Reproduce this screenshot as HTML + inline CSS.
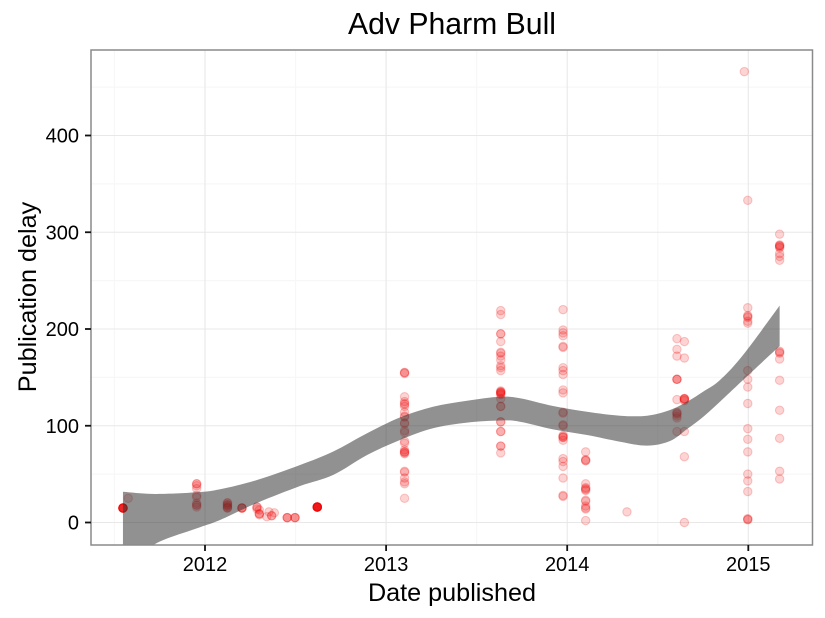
<!DOCTYPE html>
<html lang="en">
<head>
<meta charset="utf-8">
<title>Adv Pharm Bull</title>
<style>
html,body{margin:0;padding:0;background:#fff;width:825px;height:618px;overflow:hidden}
svg{display:block}
text{font-family:"Liberation Sans",Arial,sans-serif;fill:#000}
</style>
</head>
<body>
<svg id="chart" xmlns="http://www.w3.org/2000/svg" width="825" height="618" viewBox="0 0 825 618">
  <defs>
    <clipPath id="panel-clip"><rect x="91" y="50" width="722" height="495"></rect></clipPath>
  </defs>
  <rect x="91" y="50" width="722" height="495" fill="#fff"></rect>
  <g id="grid"></g>
  <g id="points" clip-path="url(#panel-clip)"></g>
  <path id="ribbon" clip-path="url(#panel-clip)" fill="#333333" fill-opacity="0.54"></path>
  <rect x="91" y="50" width="721.5" height="495" fill="none" stroke="#8a8a8a" stroke-width="1.5"></rect>
  <g id="axes"></g>
  <text x="452" y="34" font-size="30.2" text-anchor="middle">Adv Pharm Bull</text>
  <text x="452" y="601" font-size="25.2" text-anchor="middle">Date published</text>
  <text transform="translate(36,297) rotate(-90)" font-size="25.2" text-anchor="middle">Publication delay</text>
</svg>
<script>
const xTicks = [2012, 2013, 2014, 2015];
const xMinorTicks = [2011.5, 2012.5, 2013.5, 2014.5];
const yTicks = [0, 100, 200, 300, 400];
const yMinorTicks = [50, 150, 250, 350, 450];

const pubDates = [2011.547, 2011.576, 2011.954, 2012.124, 2012.204, 2012.287, 2012.30, 2012.341, 2012.353, 2012.368, 2012.383, 2012.454, 2012.497, 2012.62, 2013.102, 2013.633, 2013.977, 2014.102, 2014.33, 2014.606, 2014.647, 2014.978, 2014.997, 2015.173];
const delays = [
  [15, 15, 15, 15, 15, 15, 15, 15, 15, 15],
  [25],
  [40, 40, 38, 35, 28, 26, 20, 18, 18, 16],
  [20.5, 20, 18.5, 18, 17, 16, 15, 15],
  [15, 15, 15, 15],
  [16, 16, 14],
  [13, 9, 9, 8],
  [6],
  [11],
  [7, 7],
  [10],
  [5, 5, 5],
  [5, 5, 5],
  [16, 16, 16, 16, 16, 16, 16, 16, 16, 16, 16, 16],
  [155, 155, 154, 130, 125, 123, 122, 120, 114, 110, 109, 103, 102, 95, 93, 84, 82, 75, 73, 73, 72, 71, 53, 52, 46, 42, 40, 25],
  [219, 215, 195, 195, 187, 176, 175, 172, 168, 162, 160, 157, 136, 135, 135, 134, 134, 133, 132, 128, 120, 120, 104, 104, 94, 94, 79, 79, 72],
  [220, 199, 196, 193, 182, 181, 160, 157, 153, 137, 134, 114, 113, 101, 100, 90, 89, 88, 88, 85, 66, 63, 58, 46, 28, 27],
  [73, 65, 64, 64, 40, 36, 35, 34, 33, 23, 22, 17, 15, 14, 2],
  [11],
  [190, 179, 172, 148, 148, 148, 127, 114, 113, 112, 110, 108, 94],
  [187, 170, 128, 128, 128, 127, 126, 94, 68, 0],
  [466],
  [333, 222, 214, 213, 212, 208, 206, 157, 148, 140, 123, 97, 86, 73, 50, 43, 32, 4, 3, 3],
  [298, 287, 286, 286, 285, 284, 278, 275, 271, 177, 176, 175, 169, 147, 116, 87, 53, 45]
];

const smoothDates = [2011.547, 2011.724, 2011.956, 2012.083, 2012.287, 2012.525, 2012.707, 2012.895, 2013.077, 2013.259, 2013.447, 2013.629, 2013.739, 2013.922, 2014.109, 2014.292, 2014.441, 2014.568, 2014.662, 2014.750, 2014.844, 2014.971, 2015.173];
const smoothUpper = [31.8, 29.5, 31.2, 34.3, 43.9, 59.4, 73.2, 92.2, 108.7, 119.7, 125.9, 130, 128.4, 120.4, 114.5, 110.4, 110.4, 116.3, 124.9, 135.2, 147.3, 173.1, 224.1];
const smoothLower = [-47, -22.2, -6, 2.6, 20.2, 37.7, 49.1, 69.8, 85.3, 97.4, 103.2, 105.4, 104.2, 96.3, 90.4, 83.5, 79.4, 84.2, 96.6, 109, 124.9, 147.3, 182.4];

const SVG_NS = 'http://www.w3.org/2000/svg';
function xScale(v) { return 205 + (v - 2012) * 181.1; }
function yScale(v) { return 522.5 - v * 0.9675; }

function make(tag, attrs, parent) {
  const el = document.createElementNS(SVG_NS, tag);
  for (const k in attrs) el.setAttribute(k, attrs[k]);
  parent.appendChild(el);
  return el;
}

const grid = document.getElementById('grid');
const axes = document.getElementById('axes');

xMinorTicks.forEach(function (t) {
  const el = make('line', { x1: xScale(t), x2: xScale(t), y1: 50, y2: 545, stroke: '#f7f7f7', 'stroke-width': 1.2 }, grid);
  
  
});
yMinorTicks.forEach(function (t) {
  const el = make('line', { x1: 91, x2: 813, y1: yScale(t), y2: yScale(t), stroke: '#f7f7f7', 'stroke-width': 1.2 }, grid);
  
  
});
xTicks.forEach(function (t) {
  const el = make('line', { x1: xScale(t), x2: xScale(t), y1: 50, y2: 545, stroke: '#e8e8e8', 'stroke-width': 1.1 }, grid);
  
  

  const tick = make('line', { x1: xScale(t), x2: xScale(t), y1: 545, y2: 551, stroke: '#111', 'stroke-width': 1.8 }, axes);
  
  

  const label = make('text', { x: xScale(t), y: 571, 'font-size': 20, 'text-anchor': 'middle' }, axes);
  
  
  label.textContent = String(t);
});
yTicks.forEach(function (t) {
  const el = make('line', { x1: 91, x2: 813, y1: yScale(t), y2: yScale(t), stroke: '#e8e8e8', 'stroke-width': 1.1 }, grid);
  
  

  const tick = make('line', { x1: 85, x2: 91, y1: yScale(t), y2: yScale(t), stroke: '#111', 'stroke-width': 1.8 }, axes);
  
  

  const label = make('text', { x: 79, y: yScale(t) + 7, 'font-size': 20, 'text-anchor': 'end' }, axes);
  
  
  label.textContent = String(t);
});

const pointsLayer = document.getElementById('points');
pubDates.forEach(function (d, i) {
  delays[i].forEach(function (v) {
    const c = make('circle', {
      cx: xScale(d), cy: yScale(v), r: 4.2,
      fill: '#f00000', 'fill-opacity': 0.17,
      stroke: '#f00000', 'stroke-opacity': 0.2, 'stroke-width': 1.1
    }, pointsLayer);
    
    
  });
});

function spline(pts) {
  let d = '';
  for (let i = 0; i < pts.length - 1; i++) {
    const p0 = pts[Math.max(i - 1, 0)];
    const p1 = pts[i];
    const p2 = pts[i + 1];
    const p3 = pts[Math.min(i + 2, pts.length - 1)];
    const c1x = p1[0] + (p2[0] - p0[0]) / 6;
    const c1y = p1[1] + (p2[1] - p0[1]) / 6;
    const c2x = p2[0] - (p3[0] - p1[0]) / 6;
    const c2y = p2[1] - (p3[1] - p1[1]) / 6;
    d += ' C' + c1x.toFixed(2) + ' ' + c1y.toFixed(2) + ' ' + c2x.toFixed(2) + ' ' + c2y.toFixed(2) + ' ' + p2[0].toFixed(2) + ' ' + p2[1].toFixed(2);
  }
  return d;
}

const upperPts = smoothDates.map(function (d, i) { return [xScale(d), yScale(smoothUpper[i])]; });
const lowerPts = smoothDates.map(function (d, i) { return [xScale(d), yScale(smoothLower[i])]; }).reverse();
const ribbonPath = 'M' + upperPts[0][0].toFixed(2) + ' ' + upperPts[0][1].toFixed(2) + spline(upperPts) +
  ' L' + lowerPts[0][0].toFixed(2) + ' ' + lowerPts[0][1].toFixed(2) + spline(lowerPts) + ' Z';
document.getElementById('ribbon').setAttribute('d', ribbonPath);
</script>
</body>
</html>
